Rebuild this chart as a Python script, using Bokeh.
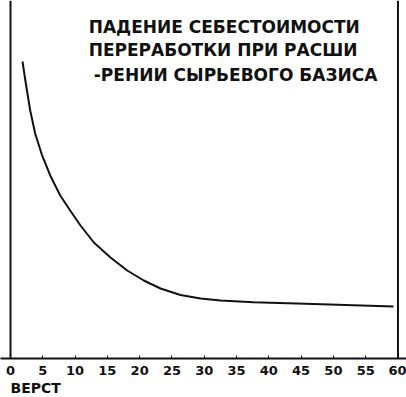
from bokeh.plotting import figure
from bokeh.models import Range1d, FixedTicker, Span, Title
from bokeh.core.properties import value
from bokeh.embed import file_html
from bokeh.resources import INLINE

# distance in versts and relative processing cost
versts = [1.86, 2.17, 2.52, 3.05, 3.82, 4.85, 6.15, 7.70, 9.29, 10.84, 12.90, 15.48,
          18.07, 20.64, 23.23, 26.32, 29.42, 32.52, 37.63, 46.92, 59.31]
cost = [82.96, 79.19, 75.14, 69.27, 62.85, 56.98, 51.12, 45.53, 41.20, 37.15, 32.40, 28.21,
        24.58, 21.79, 19.55, 17.74, 16.76, 16.20, 15.73, 15.22, 14.53]
tick_values = list(range(0, 61, 5))
title_lines = ["ПАДЕНИЕ СЕБЕСТОИМОСТИ", "ПЕРЕРАБОТКИ ПРИ РАСШИ", "-РЕНИИ СЫРЬЕВОГО БАЗИСА"]
x_label = "ВЕРСТ"

INK = "#111111"

p = figure(width=406, height=397, output_backend="svg", toolbar_location=None,
           x_range=Range1d(-1.55, 61.32), y_range=Range1d(0, 100),
           min_border_left=0, min_border_right=0, min_border_top=0, min_border_bottom=39)
p.outline_line_color = None
p.grid.visible = False
p.yaxis.visible = False

ax = p.xaxis[0]
ax.ticker = FixedTicker(ticks=tick_values)
ax.major_tick_in = 3
ax.major_tick_out = 0
ax.minor_tick_line_color = None
ax.axis_line_width = 2
ax.axis_line_color = INK
ax.major_tick_line_color = INK
ax.major_label_text_font = "DejaVu Sans"
ax.major_label_text_font_style = "bold"
ax.major_label_text_font_size = "13px"
ax.major_label_text_color = INK
ax.major_label_standoff = 7

p.add_layout(Title(text=x_label, align="left", offset=10, standoff=0,
                   text_font="DejaVu Sans", text_font_style="bold",
                   text_font_size="14px", text_color=INK), "below")

p.add_layout(Span(location=0, dimension="height", line_color=INK, line_width=2))
p.add_layout(Span(location=60, dimension="height", line_color=INK, line_width=2))

p.line(versts, cost, line_color=INK, line_width=2)

p.text(x=[12.1, 12.1, 12.9], y=[92.6, 86.3, 79.3], text=title_lines,
       text_font=value("DejaVu Sans"), text_font_style="bold", text_font_size="17px",
       text_color=INK, text_baseline="middle", text_align="left")

open("out.html", "w").write(file_html(p, INLINE))
